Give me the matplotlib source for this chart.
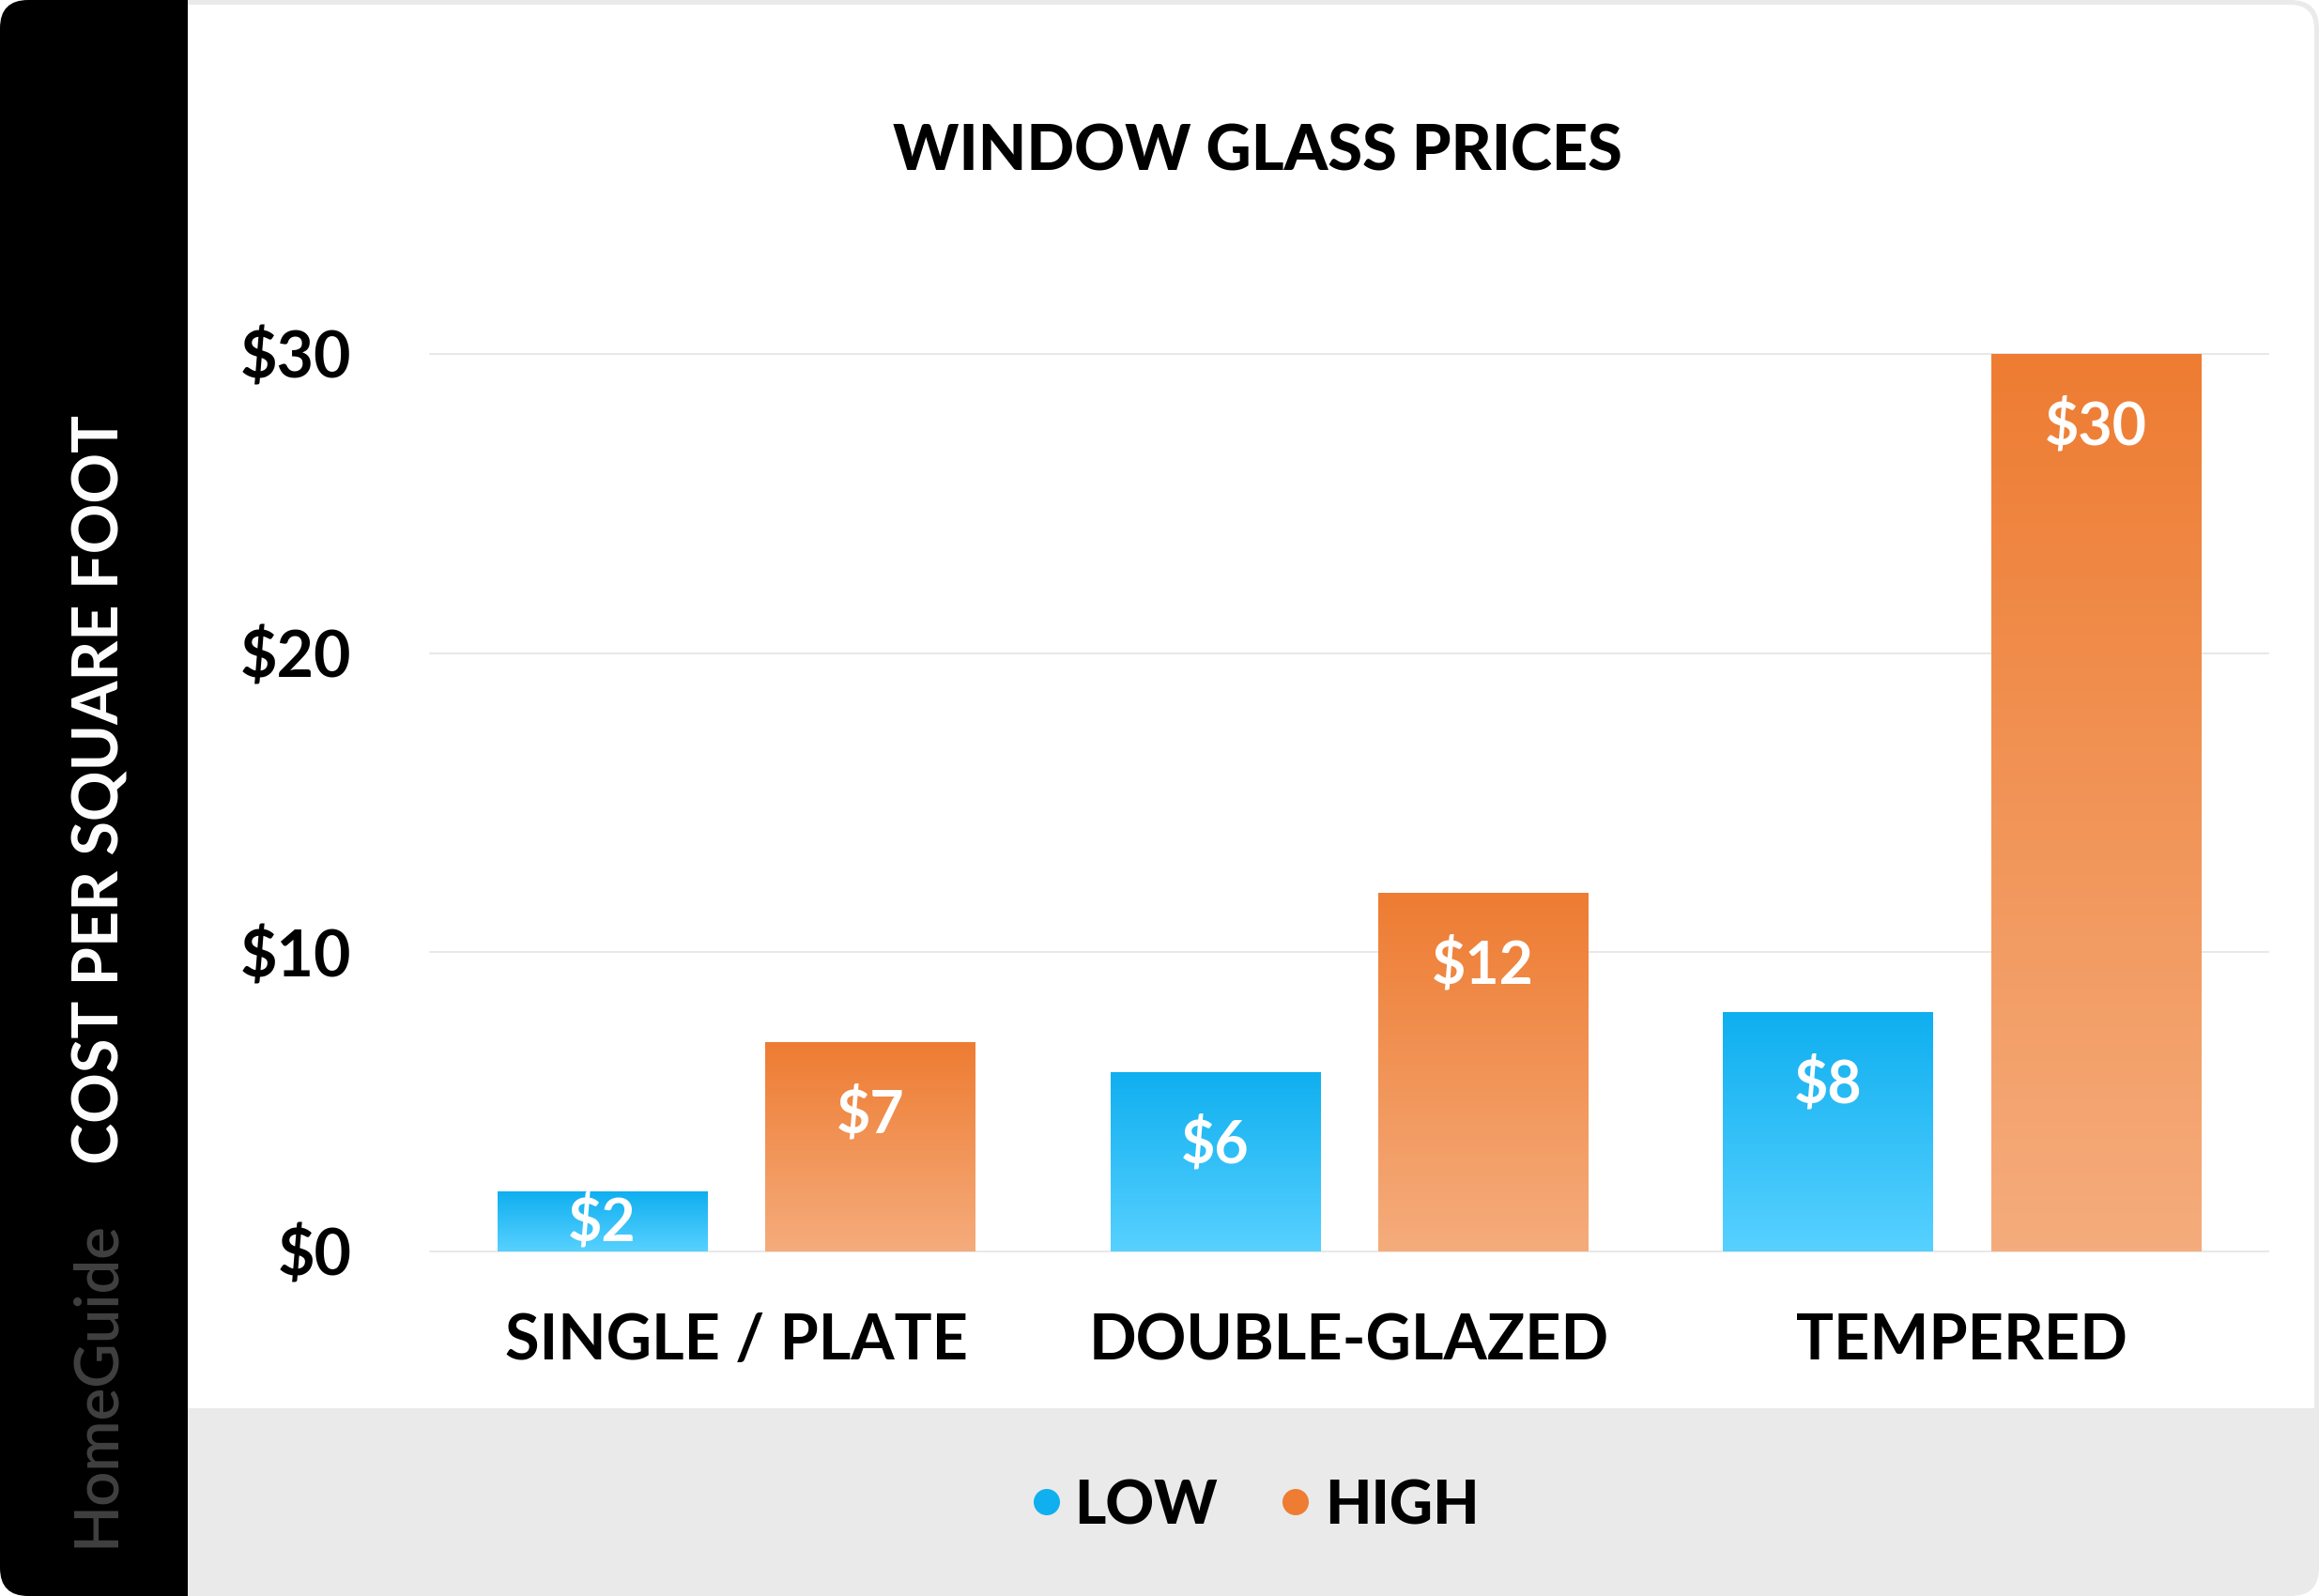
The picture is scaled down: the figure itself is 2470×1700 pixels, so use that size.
#!/usr/bin/env python
"""Window glass prices, low and high cost per square foot."""

import matplotlib
matplotlib.use("Agg")
import matplotlib.pyplot as plt
import numpy as np
from matplotlib.colors import LinearSegmentedColormap
from matplotlib.patches import Circle, FancyBboxPatch, Rectangle

categories = ["SINGLE / PLATE", "DOUBLE-GLAZED", "TEMPERED"]
low_values = [2, 6, 8]
high_values = [7, 12, 30]
y_ticks = [0, 10, 20, 30]
y_tick_labels = ["$0", "$10", "$20", "$30"]
series_names = ["LOW", "HIGH"]

WIDTH, HEIGHT = 2470, 1700
BLUE_TOP, BLUE_BOTTOM = "#0FAFF0", "#57D1FF"
ORANGE_TOP, ORANGE_BOTTOM = "#EE7C32", "#F5AC7C"
GREY = "#EAEAEA"
FONT = "Lato"

plt.rcParams["font.family"] = [FONT, "DejaVu Sans"]


def to_fig(x, y):
    return x / WIDTH, 1 - y / HEIGHT


def rounded(ax, x0, y0, x1, y1, radius, color):
    ax.add_patch(FancyBboxPatch(
        (x0 + radius, y0 + radius), x1 - x0 - 2 * radius, y1 - y0 - 2 * radius,
        boxstyle=f"round,pad={radius},rounding_size={radius}",
        facecolor=color, edgecolor="none",
    ))


def draw_card(fig):
    bg = fig.add_axes([0, 0, 1, 1], zorder=0)
    bg.set_xlim(0, WIDTH)
    bg.set_ylim(HEIGHT, 0)
    bg.axis("off")
    rounded(bg, 0, 0, WIDTH, HEIGHT, 30, GREY)
    rounded(bg, 0, 0, 500, HEIGHT, 30, "#000000")
    bg.add_patch(Rectangle((200, 0), 400, 5, facecolor=GREY, edgecolor="none"))
    rounded(bg, 1000, 5, 2465, 1600, 26, "#FFFFFF")
    bg.add_patch(Rectangle((200, 5), 1000, 1495, facecolor="#FFFFFF", edgecolor="none"))
    bg.add_patch(Rectangle((200, 1500), 2100, 200, facecolor=GREY, edgecolor="none"))
    bg.add_patch(Rectangle((2300, 1500), 170, 164, facecolor=GREY, edgecolor="none"))
    return bg


def gradient_fill(ax, bar, top, bottom):
    cmap = LinearSegmentedColormap.from_list("bar", [top, bottom])
    x0, y0 = bar.get_x(), bar.get_y()
    image = ax.imshow(
        np.linspace(0, 1, 256).reshape(-1, 1), cmap=cmap, aspect="auto", origin="upper",
        extent=(x0, x0 + bar.get_width(), y0, y0 + bar.get_height()), zorder=3,
    )
    image.set_clip_path(bar)


def draw_bars(ax):
    x = np.arange(len(categories))
    bar_width = 0.342
    offset = 0.2186
    low_bars = ax.bar(x - offset, low_values, bar_width, color=BLUE_TOP, zorder=2)
    high_bars = ax.bar(x + offset, high_values, bar_width, color=ORANGE_TOP, zorder=2)
    for bars, values, top, bottom in (
        (low_bars, low_values, BLUE_TOP, BLUE_BOTTOM),
        (high_bars, high_values, ORANGE_TOP, ORANGE_BOTTOM),
    ):
        for bar, value in zip(bars, values):
            gradient_fill(ax, bar, top, bottom)
            # the $2 bar is too short for the normal inset
            shift = -24 if value < 3 else -56
            ax.annotate(
                f"${value}", (bar.get_x() + bar.get_width() / 2, value),
                xytext=(0, shift), textcoords="offset points", ha="center", va="center",
                color="white", fontsize=45, fontweight="bold", zorder=4,
            )
    ax.set_xlim(-0.5, 2.5)
    ax.set_ylim(0, 30)


def main():
    fig = plt.figure(figsize=(WIDTH / 100, HEIGHT / 100), dpi=100, facecolor="white")
    bg = draw_card(fig)

    left, bottom = to_fig(458, 1333)
    right, top = to_fig(2416, 377)
    ax = fig.add_axes([left, bottom, right - left, top - bottom], zorder=1)
    ax.patch.set_alpha(0)
    draw_bars(ax)

    for spine in ax.spines.values():
        spine.set_visible(False)
    ax.set_yticks(y_ticks, y_tick_labels, fontsize=49, fontweight="bold")
    ax.set_xticks(range(len(categories)), categories, fontsize=48, fontweight="bold")
    ax.tick_params(axis="both", length=0)
    ax.tick_params(axis="y", pad=60)
    ax.tick_params(axis="x", pad=47)
    ax.grid(axis="y", color="#E2E2E2", linewidth=1.1, zorder=0)
    ax.set_axisbelow(True)
    for line in ax.get_ygridlines():
        line.set_clip_on(False)

    fig.text(*to_fig(1339, 162), "WINDOW GLASS PRICES", ha="center", va="center",
             fontsize=48, fontweight="black")
    fig.text(*to_fig(108, 841), "COST PER SQUARE FOOT", ha="center", va="center", rotation=90,
             color="white", fontsize=48, fontweight="bold")
    fig.text(*to_fig(102, 1474), "HomeGuide", ha="center", va="center", rotation=90,
             color="#404040", fontsize=47, fontweight="semibold")

    # legend sits in the grey band
    bg.add_patch(Circle((1115, 1600), 14, facecolor=BLUE_TOP, edgecolor="none"))
    bg.add_patch(Circle((1380, 1600), 14, facecolor=ORANGE_TOP, edgecolor="none"))
    fig.text(*to_fig(1144, 1600), series_names[0], ha="left", va="center_baseline",
             fontsize=46, fontweight="black")
    fig.text(*to_fig(1411, 1600), series_names[1], ha="left", va="center_baseline",
             fontsize=46, fontweight="black")

    fig.savefig("out.png", dpi=100)
    plt.close(fig)


if __name__ == "__main__":
    main()
